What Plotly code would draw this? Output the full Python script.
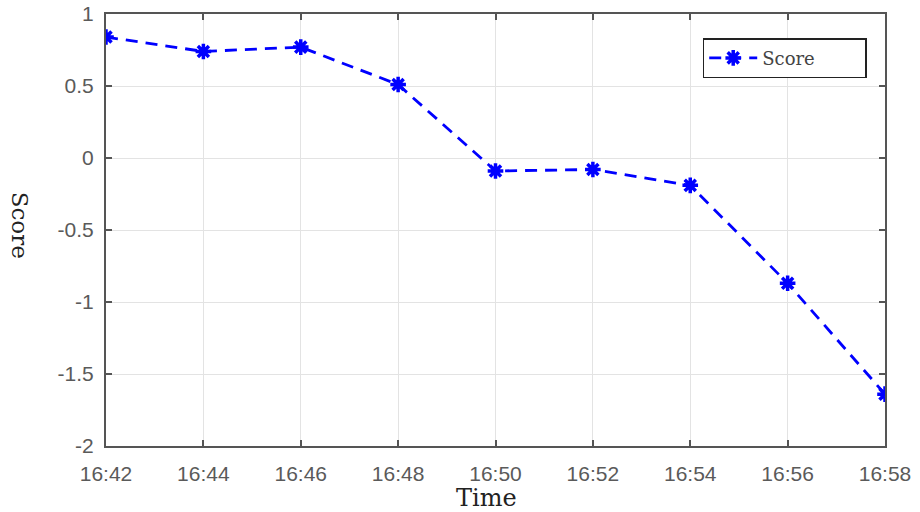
import plotly.graph_objects as go

times = ["2024-01-01 16:42", "2024-01-01 16:44", "2024-01-01 16:46", "2024-01-01 16:48",
         "2024-01-01 16:50", "2024-01-01 16:52", "2024-01-01 16:54", "2024-01-01 16:56",
         "2024-01-01 16:58"]
scores = [0.84, 0.74, 0.77, 0.51, -0.09, -0.08, -0.19, -0.87, -1.64]
y_ticks = [1, 0.5, 0, -0.5, -1, -1.5, -2]
y_tick_labels = ["1", "0.5", "0", "-0.5", "-1", "-1.5", "-2"]
x_title = "Time"
y_title = "Score"

fig = go.Figure()
fig.add_trace(go.Scatter(
    x=times, y=scores, mode="lines+markers", name="Score",
    line=dict(color="#0000ff", width=2.8, dash="12px,8px"),
    marker=dict(symbol="asterisk-open", size=13, color="#0000ff",
                line=dict(color="#0000ff", width=3.5)),
))

axis_common = dict(
    showgrid=True, gridcolor="#e3e3e3", gridwidth=1,
    showline=True, linecolor="#555555", linewidth=2, mirror="ticks",
    ticks="inside", ticklen=6, tickcolor="#555555", tickwidth=1.5,
    tickfont=dict(family="Liberation Sans", size=21, color="#5a5a5a"),
    zeroline=False, automargin=False, ticklabeloverflow="allow",
)

fig.update_layout(
    width=920, height=512,
    margin=dict(l=106, r=35, t=14, b=66),
    paper_bgcolor="white", plot_bgcolor="white",
    showlegend=True,
    legend=dict(x=0.766, y=0.944, xanchor="left", yanchor="top",
                orientation="h", itemwidth=48,
                entrywidth=98, entrywidthmode="pixels",
                bordercolor="#222222", borderwidth=1.5, bgcolor="white",
                font=dict(family="DejaVu Serif", size=18, color="#444444")),
    xaxis=dict(
        range=["2024-01-01 16:42", "2024-01-01 16:58"],
        tickformat="%H:%M", dtick=120000, ticklabelstandoff=8,
        **axis_common,
    ),
    yaxis=dict(
        range=[-2, 1],
        tickvals=y_ticks, ticktext=y_tick_labels, ticklabelstandoff=6,
        **axis_common,
    ),
    annotations=[
        dict(text=x_title, xref="paper", yref="paper", x=0.489, y=-0.12,
             xanchor="center", yanchor="middle", showarrow=False,
             font=dict(family="DejaVu Serif", size=24, color="#222222")),
        dict(text=y_title, xref="paper", yref="paper", x=-0.11, y=0.5116,
             xanchor="center", yanchor="middle", showarrow=False, textangle=90,
             font=dict(family="DejaVu Serif", size=23, color="#222222")),
    ],
)

fig.write_html("out.html", config={"displayModeBar": False},
               post_script="document.body.style.margin='0';")
